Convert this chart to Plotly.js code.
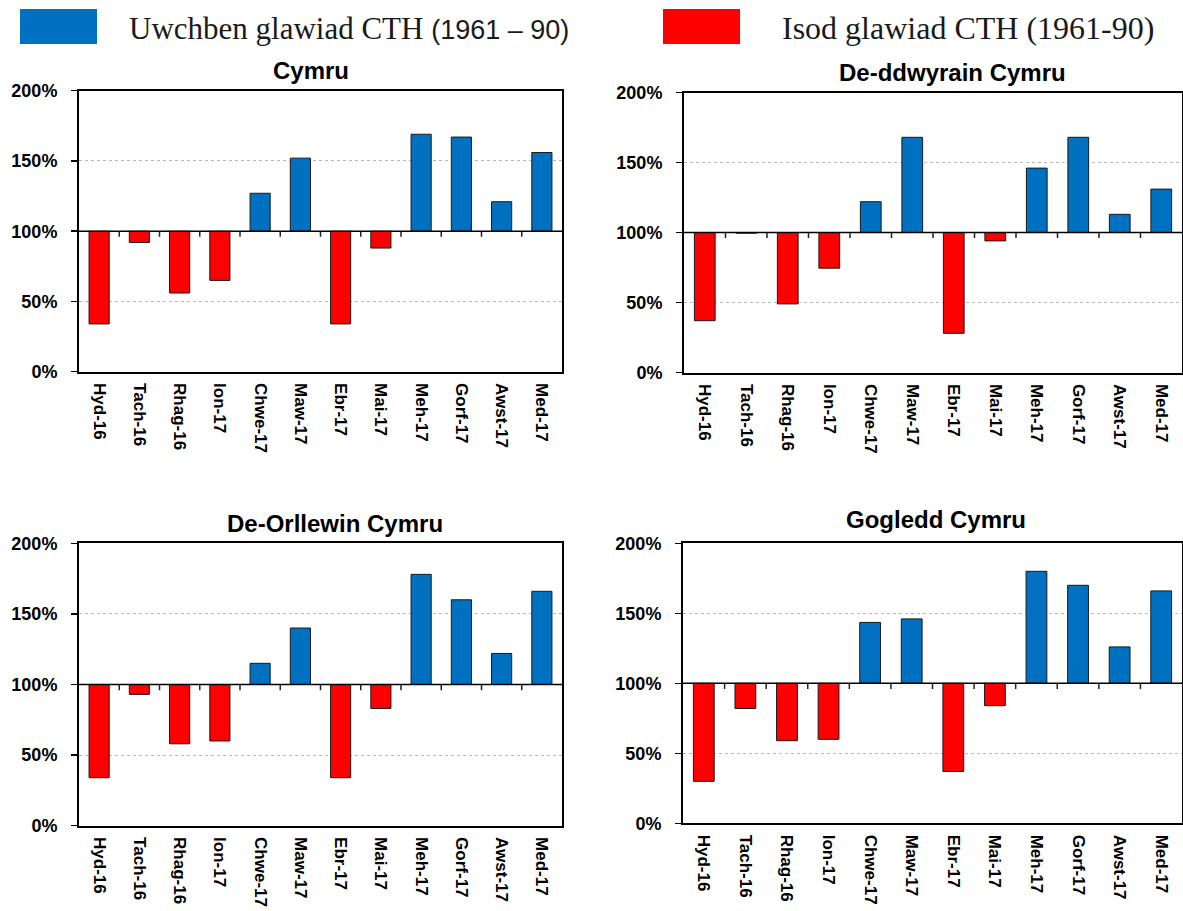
<!DOCTYPE html>
<html>
<head>
<meta charset="utf-8">
<script src="https://cdn.plot.ly/plotly-3.0.1.min.js"></script>
<style>html,body{margin:0;padding:0;background:#fff;}#chart{width:1183px;height:911px;}</style>
</head>
<body>
<div id="chart"></div>
<script>
// ---- data ----
const categories = ['Hyd-16','Tach-16','Rhag-16','Ion-17','Chwe-17','Maw-17','Ebr-17','Mai-17','Meh-17','Gorf-17','Awst-17','Med-17'];
const cymru      = [34, 92, 56, 65, 127, 152, 34, 88, 169, 167, 121, 156];
const deDdwyrain = [37, 99.5, 49, 74.5, 122, 168, 28, 94, 146, 168, 113, 131];
const deOrllewin = [34, 93, 58, 60, 115, 140, 34, 83, 178, 160, 122, 166];
const gogledd    = [30, 82, 59, 60, 143.5, 146, 37, 84, 180, 170, 126, 166];
const panelTitles = ['Cymru', 'De-ddwyrain Cymru', 'De-Orllewin Cymru', 'Gogledd Cymru'];
const yTickVals = [0, 50, 100, 150, 200];
const yTickText = ['0%', '50%', '100%', '150%', '200%'];
const BASE = 100;
const legendAbove = 'Uwchben glawiad CTH <span style="font-family:Liberation Sans, Arial, sans-serif;font-size:27px">(1961 – 90)</span>';
const legendBelow = 'Isod glawiad CTH (1961-90)';

// ---- layout helpers ----
const W = 1183, H = 911;
const px = x => x / W;
const py = y => 1 - y / H;
const BLUE = '#0070C0', RED = '#FF0000';
const SANS = "'Liberation Sans', Arial, sans-serif";
const SERIF = "'Liberation Serif', 'Times New Roman', serif";
const TICK_DEPTH = 4; // in % units below the 100% line

const panels = [
  {vals: cymru,      x0: 79,  x1: 562,  yt: 90.7,  yb: 371.7, tx: 311, ty: 71},
  {vals: deDdwyrain, x0: 684, x1: 1182, yt: 92.5,  yb: 372.5, tx: 952, ty: 72},
  {vals: deOrllewin, x0: 79,  x1: 562,  yt: 543.3, yb: 825.7, tx: 335, ty: 523},
  {vals: gogledd,    x0: 683, x1: 1182, yt: 543.3, yb: 823.3, tx: 936, ty: 519}
];

// category boundaries (domain fractions) for the small ticks on the 100% line
const boundaryFrac = categories.slice(1).map((_, k) => (k + 1) / categories.length);

const traces = [];
const layout = {
  width: W, height: H, autosize: false,
  margin: {l: 0, r: 0, t: 0, b: 0},
  paper_bgcolor: '#fff', plot_bgcolor: '#fff',
  showlegend: false, bargap: 0.5,
  font: {family: SANS, color: '#000'},
  annotations: [], shapes: []
};

panels.forEach((p, i) => {
  const xs = i === 0 ? '' : i + 1;
  traces.push({
    type: 'bar', x: categories,
    y: p.vals.map(v => v - BASE), base: p.vals.map(() => BASE),
    xaxis: 'x' + xs, yaxis: 'y' + xs,
    marker: {color: p.vals.map(v => v >= BASE ? BLUE : RED), line: {color: '#1a1a1a', width: 1}},
    hoverinfo: 'skip'
  });
  layout['xaxis' + xs] = {
    domain: [px(p.x0), px(p.x1)], anchor: 'y' + xs, type: 'category',
    showline: true, mirror: true, linecolor: '#000', linewidth: 2,
    ticks: '', showgrid: false, zeroline: false,
    tickangle: 90, ticklabelstandoff: 6,
    tickfont: {family: SANS, size: 17, weight: 'bold', color: '#000'}
  };
  layout['yaxis' + xs] = {
    domain: [py(p.yb), py(p.yt)], anchor: 'x' + xs, range: [0, 200],
    tickmode: 'array', tickvals: yTickVals, ticktext: yTickText,
    ticks: 'outside', ticklen: 6, tickcolor: '#000', tickwidth: 1.5,
    ticklabelstandoff: 10,
    showline: true, mirror: true, linecolor: '#000', linewidth: 2,
    showgrid: true, gridcolor: '#b8b8b8', griddash: 'dot', gridwidth: 1,
    zeroline: false,
    tickfont: {family: SANS, size: 18, weight: 'bold', color: '#000'}
  };
  // category axis line at 100%
  layout.shapes.push({
    type: 'line', xref: 'x' + xs + ' domain', yref: 'y' + xs,
    x0: 0, x1: 1, y0: BASE, y1: BASE, line: {color: '#000', width: 1.5}
  });
  // small tick marks at category boundaries, pointing down from the 100% line
  boundaryFrac.forEach(f => {
    layout.shapes.push({
      type: 'line', xref: 'x' + xs + ' domain', yref: 'y' + xs,
      x0: f, x1: f, y0: BASE, y1: BASE - TICK_DEPTH,
      line: {color: '#222', width: 1.5}
    });
  });
  layout.annotations.push({
    xref: 'paper', yref: 'paper', x: px(p.tx), y: py(p.ty),
    xanchor: 'center', yanchor: 'middle', showarrow: false,
    text: '<b>' + panelTitles[i] + '</b>',
    font: {family: SANS, size: 24, color: '#000'}
  });
});

// legend
layout.shapes.push({type: 'rect', xref: 'paper', yref: 'paper', x0: px(20), x1: px(97), y0: py(44), y1: py(9), fillcolor: BLUE, line: {width: 0}});
layout.shapes.push({type: 'rect', xref: 'paper', yref: 'paper', x0: px(663), x1: px(740), y0: py(44), y1: py(9), fillcolor: RED, line: {width: 0}});
layout.annotations.push({xref: 'paper', yref: 'paper', x: px(127), y: py(28), xanchor: 'left', yanchor: 'middle', showarrow: false, text: legendAbove, font: {family: SERIF, size: 31, color: '#1a1a1a'}});
layout.annotations.push({xref: 'paper', yref: 'paper', x: px(780), y: py(28), xanchor: 'left', yanchor: 'middle', showarrow: false, text: legendBelow, font: {family: SERIF, size: 32, color: '#1a1a1a'}});

Plotly.newPlot('chart', traces, layout, {staticPlot: true, displayModeBar: false});
</script>
</body>
</html>
